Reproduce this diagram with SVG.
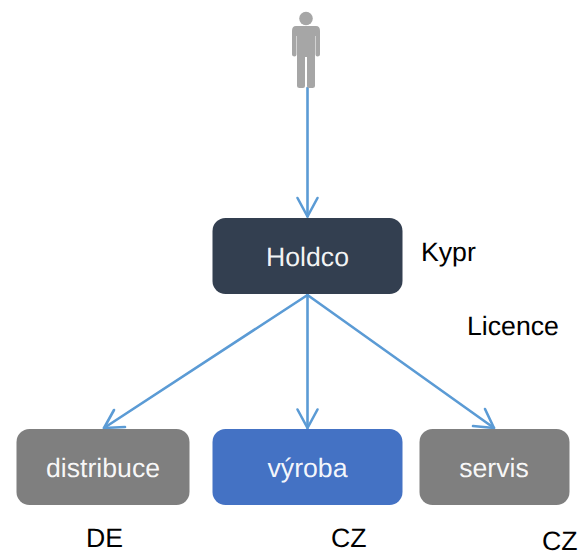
<svg xmlns="http://www.w3.org/2000/svg" width="580" height="552" viewBox="0 0 580 552">
<style>
text{font-family:"Liberation Sans",Arial,sans-serif;font-size:26.67px;text-rendering:geometricPrecision}
.w{fill:#fff;text-anchor:middle;fill-opacity:.95}
.k{fill:#000}
.c{fill:none;stroke:#5b9bd5;stroke-width:2.6;stroke-linecap:round;stroke-linejoin:round}
</style>
<rect width="580" height="552" fill="#fff"/>
<g id="connectors" class="c">
<path d="M307.500 88V216.500"/><path d="M297.500 198L307.500 216.500L317.500 198"/>
<path d="M307.500 295V428"/><path d="M297.500 409.500L307.500 428L317.500 409.500"/>
<path d="M307.500 295L104 428"/><path d="M114 410L104 428L125 427"/>
<path d="M307.500 295L494 428"/><path d="M473 426L494 428L485 409"/>
</g>
<g id="person"><g fill="#a6a6a6">
<circle cx="306" cy="18.500" r="6.800"/>
<path d="M296 26H316Q320 26 320 31V54.500Q320 56.500 317.500 56.500Q315.500 56.500 315.500 54.500V36H315V86Q315 88 312.500 88H309Q307 88 307 86V57H305V86Q305 88 303 88H299.500Q297 88 297 86V36H296.500V54.500Q296.500 56.500 294.500 56.500Q292 56.500 292 54.500V31Q292 26 296 26Z"/>
</g></g>
<g id="holdco"><rect x="212.500" y="218" width="190" height="76" rx="13" fill="#333f50"/><text class="w" x="307.500" y="266">Holdco</text></g>
<g id="distribuce"><rect x="16.500" y="429" width="173" height="76" rx="13" fill="#7f7f7f"/><text class="w" x="103" y="477">distribuce</text></g>
<g id="vyroba"><rect x="212.500" y="429" width="190" height="76" rx="13" fill="#4472c4"/><text class="w" x="307.500" y="477">výroba</text></g>
<g id="servis"><rect x="419.500" y="429" width="150" height="76" rx="13" fill="#7f7f7f"/><text class="w" x="494" y="477">servis</text></g>
<g id="labels">
<text class="k" x="421" y="261">Kypr</text>
<text class="k" x="467" y="335">Licence</text>
<text class="k" x="86" y="547">DE</text>
<text class="k" x="331" y="547">CZ</text>
<text class="k" x="542" y="550">CZ</text>
</g>
</svg>
